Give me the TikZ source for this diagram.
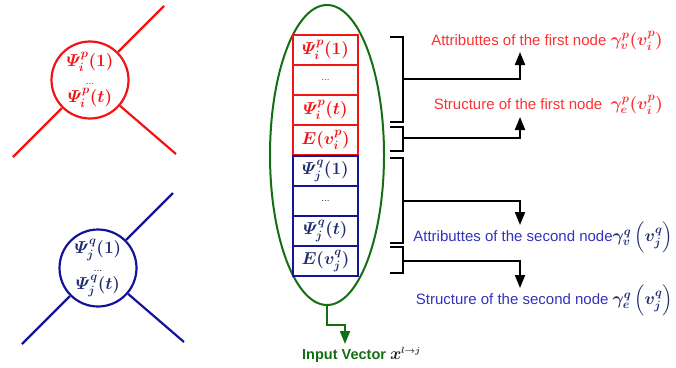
\documentclass[tikz,border=0pt]{standalone}
\usepackage{amsmath,bm}
\usepackage{fontspec}
\setmainfont{Liberation Sans}
\usetikzlibrary{shapes.geometric,arrows.meta}
\definecolor{myred}{RGB}{240,20,20}
\definecolor{txtred}{RGB}{250,50,50}
\definecolor{navy}{RGB}{20,20,150}
\definecolor{txtblue}{RGB}{50,50,190}
\definecolor{mathblue}{RGB}{30,45,110}
\definecolor{mygreen}{RGB}{20,110,20}
\newcommand{\bigmath}[1]{{\fontsize{17.5}{18}\selectfont$\bm{#1}$}}
\newcommand{\smalldots}{{\fontsize{10}{10}\selectfont ...}}
\begin{document}
\begin{tikzpicture}[x=1pt,y=-1pt,
  ncirc/.style={circle,draw,line width=2.2pt,minimum size=77pt,inner sep=0pt,align=center,font=\fontsize{17}{18}\selectfont},
  rbox/.style={draw=myred,text=myred,line width=2pt,minimum width=65pt,minimum height=30pt,inner sep=0pt,font=\fontsize{17}{18}\selectfont},
  bbox/.style={draw=navy,text=mathblue,line width=2pt,minimum width=65pt,minimum height=30pt,inner sep=0pt,font=\fontsize{17}{18}\selectfont},
  brk/.style={draw=black,line width=2pt},
  conn/.style={draw=black,line width=2pt,-{Triangle[width=10pt,length=13pt]}},
  lab/.style={anchor=east,inner sep=0pt,font=\fontsize{15}{17}\selectfont}
]
\path[use as bounding box] (0,0) rectangle (676,367);

% red node
\node[ncirc,draw=myred,text=myred] (rc) at (90,80) {$\bm{\varPsi_i^p(1)}$\\\smalldots\\$\bm{\varPsi_i^p(t)}$};
\coordinate (rur) at (164,6);
\coordinate (rll) at (13,157);
\coordinate (rlr) at (176,154);
\draw[myred,line width=2.2pt] (rc) -- (rur);
\draw[myred,line width=2.2pt] (rc) -- (rll);
\draw[myred,line width=2.2pt] (rc) -- (rlr);

% blue node
\node[ncirc,draw=navy,text=mathblue] (bc) at (98,268) {$\bm{\varPsi_j^q(1)}$\\\smalldots\\$\bm{\varPsi_j^q(t)}$};
\coordinate (bur) at (173,193);
\coordinate (bll) at (22,344);
\coordinate (blr) at (184,342);
\draw[navy,line width=2.2pt] (bc) -- (bur);
\draw[navy,line width=2.2pt] (bc) -- (bll);
\draw[navy,line width=2.2pt] (bc) -- (blr);

% ellipse
\node[ellipse,draw=mygreen,line width=2pt,minimum width=114pt,minimum height=300pt,inner sep=0pt] (ell) at (327,155) {};

% boxes
\node[rbox] (r1) at (325.5,50) {$\bm{\varPsi_i^p(1)}$};
\node[rbox] (r2) at (325.5,80) {\smalldots};
\node[rbox] (r3) at (325.5,110) {$\bm{\varPsi_i^p(t)}$};
\node[rbox] (r4) at (325.5,140) {$\bm{E(v_i^p)}$};
\node[bbox] (b1) at (325.5,171) {$\bm{\varPsi_j^q(1)}$};
\node[bbox] (b2) at (325.5,201) {\smalldots};
\node[bbox] (b3) at (325.5,231) {$\bm{\varPsi_j^q(t)}$};
\node[bbox] (b4) at (325.5,261) {$\bm{E(v_j^q)}$};

% input vector
\coordinate (gc) at (345,325);
\coordinate (gt) at (345,344);
\node[anchor=west,inner sep=0pt,text=mygreen,font=\fontsize{14.5}{17}\selectfont\bfseries] (inp) at (302,355) {Input Vector {\color{black!85}{\fontsize{18}{18}\selectfont$\bm{x^{\scriptscriptstyle l\to j}}$}}};
\draw[mygreen,line width=2pt,-{Triangle[width=10pt,length=13pt]}] (ell.south) |- (gc) -- (gt);

% labels
\node[lab,text=txtred] (l1) at (663,41) {Attributtes of the first node \bigmath{\gamma_v^p(v_i^p)}};
\node[lab,text=txtred] (l2) at (663,105) {Structure of the first node\ \ \bigmath{\gamma_e^p(v_i^p)}};
\node[lab,text=txtblue] (l3) at (673,237) {Attributtes of the second node{\color{mathblue}\bigmath{\gamma_v^q\left(v_j^q\right)}}};
\node[lab,text=txtblue] (l4) at (673,300) {Structure of the second node {\color{mathblue}\bigmath{\gamma_e^q\left(v_j^q\right)}}};

% brackets
\draw[brk] (390,37) -- (403,37) -- (403,122) -- (390,122);
\draw[brk] (390,127) -- (403,127) -- (403,151) -- (390,151);
\draw[brk] (390,158) -- (403,158) -- (403,243) -- (390,243);
\draw[brk] (390,247) -- (403,247) -- (403,273) -- (390,273);
\coordinate (m1) at (403,79);
\coordinate (m2) at (403,138);
\coordinate (m3) at (403,201);
\coordinate (m4) at (403,261);
\coordinate (t1) at (520,52);
\coordinate (t2) at (520,117);
\coordinate (t3) at (520,225);
\coordinate (t4) at (520,288);
\draw[conn] (m1) -| (t1);
\draw[conn] (m2) -| (t2);
\draw[conn] (m3) -| (t3);
\draw[conn] (m4) -| (t4);
\end{tikzpicture}
\end{document}
